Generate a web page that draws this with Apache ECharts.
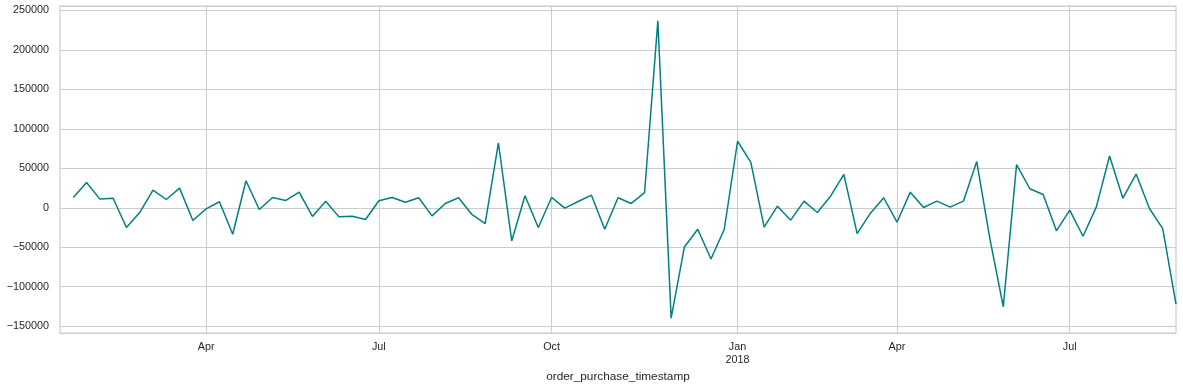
<!DOCTYPE html>
<html>
<head>
<meta charset="utf-8">
<script src="https://cdn.jsdelivr.net/npm/echarts@6/dist/echarts.min.js"></script>
<style>
html,body{margin:0;padding:0;background:#fff;}
#chart{width:1183px;height:385px;}
</style>
</head>
<body>
<div id="chart"></div>
<script>
// Weekly periods (W-SUN), first week ends 2017-01-15, 85 weeks
const firstWeekEnd = '2017-01-15';
const weekCount = 85;

// Week-over-week change values (first is NaN from diff)
const values = [
  null,
  13000, 32000, 11000, 12000, -25000, -6000, 22400, 10500, 24900, -16100,
  -1300, 7600, -33500, 34300, -2200, 13100, 9300, 19800, -11000, 8400,
  -11500, -10700, -14900, 8900, 13100, 7100, 12700, -10200, 5500, 12700,
  -8500, -20000, 82100, -42000, 15200, -25000, 13100, -500, 8000, 16000,
  -27200, 12700, 5500, 19100, 236800, -139800, -49600, -27200, -64800, -27200,
  84300, 57600, -24600, 2000, -15700, 8400, -6000, 14700, 42300, -32700,
  -6800, 12700, -18300, 19800, 400, 8400, 800, 8400, 58500, -40000,
  -125400, 54600, 24100, 16900, -29200, -3000, -36100, 800, 65600, 12200,
  42700, -900, -26300, -122000
];

// x tick positions (week containing the 1st of the month) and labels
const tickDates = ['2017-04-02', '2017-07-02', '2017-10-01', '2018-01-07', '2018-04-01', '2018-07-01'];
const tickLabels = ['Apr', 'Jul', 'Oct', 'Jan\n2018', 'Apr', 'Jul'];

const xName = 'order_purchase_timestamp';

// build week categories
const categories = [];
{
  const d0 = new Date(firstWeekEnd + 'T00:00:00Z');
  for (let i = 0; i < weekCount; i++) {
    const d = new Date(d0.getTime() + i * 7 * 86400000);
    categories.push(d.toISOString().slice(0, 10));
  }
}
const tickIdx = tickDates.map(t => categories.indexOf(t));

const valid = values.filter(v => v !== null);
const vMin = Math.min(...valid), vMax = Math.max(...valid);
const span = vMax - vMin;

const FONT = 'Liberation Sans, Arial, sans-serif';
const TXT = '#262626';
const GRID = '#cccccc';

const chart = echarts.init(document.getElementById('chart'), null, {renderer: 'canvas'});
chart.setOption({
  animation: false,
  backgroundColor: '#ffffff',
  grid: {
    left: 60, right: 7, top: 6, bottom: 52,
    containLabel: false,
    outerBoundsMode: 'none',
    show: true, borderColor: GRID, borderWidth: 1.2, backgroundColor: 'transparent'
  },
  xAxis: {
    type: 'category',
    data: categories,
    boundaryGap: false,
    axisLine: {show: false},
    axisTick: {show: false},
    axisLabel: {
      interval: (i) => tickIdx.includes(i),
      formatter: (v, i) => {
        const k = tickDates.indexOf(v);
        return k >= 0 ? tickLabels[k] : '';
      },
      color: TXT, fontFamily: FONT, fontSize: 10.8, lineHeight: 12.6, margin: 8
    },
    splitLine: {
      show: true,
      interval: (i) => tickIdx.includes(i),
      lineStyle: {color: GRID, width: 1}
    },
    name: xName,
    nameLocation: 'middle',
    nameGap: 31,
    nameTextStyle: {color: TXT, fontFamily: FONT, fontSize: 11.8}
  },
  yAxis: {
    type: 'value',
    min: vMin - 0.05 * span,
    max: vMax + 0.05 * span,
    splitNumber: 8,
    axisLine: {show: false},
    axisTick: {show: false},
    axisLabel: {
      showMinLabel: false, showMaxLabel: false,
      formatter: (v) => {
        if (Math.abs(v % 50000) > 1e-6) return '';
        return v < 0 ? '\u2212' + Math.abs(v) : String(v);
      },
      color: TXT, fontFamily: FONT, fontSize: 10.8, margin: 11
    },
    splitLine: {show: true, lineStyle: {color: GRID, width: 1}}
  },
  series: [{
    type: 'line',
    data: values,
    showSymbol: false,
    connectNulls: false,
    lineStyle: {color: '#008080', width: 1.5},
    itemStyle: {color: '#008080'}
  }]
});
</script>
</body>
</html>
